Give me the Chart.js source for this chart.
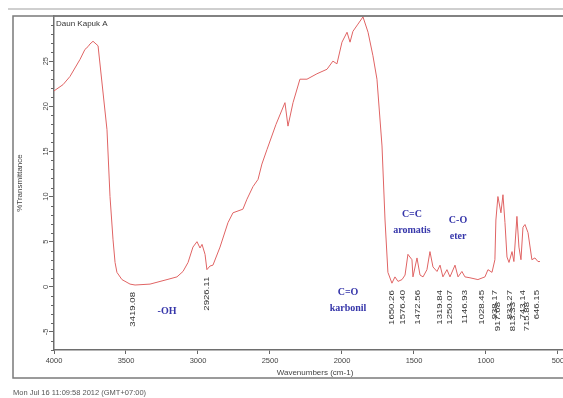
<!DOCTYPE html>
<html>
<head>
<meta charset="utf-8">
<script src="https://cdn.jsdelivr.net/npm/chart.js@4.4.0/dist/chart.umd.min.js"></script>
<style>
html, body { margin: 0; padding: 0; background: #fff; overflow: hidden; }
canvas { display: block; }
</style>
</head>
<body>
<canvas id="mycanvas" width="563" height="398"></canvas>
<script>
// spectrum
var wavenumber = [4000,3937,3889,3819,3785,3764,3750,3729,3694,3632,
	3611,3590,3576,3563,3528,3472,3437,3333,3215,3146,
	3104,3069,3035,3007,2986,2972,2951,2938,2917,2896,
	2847,2792,2757,2688,2660,2618,2583,2556,2521,2458,
	2396,2375,2340,2292,2243,2174,2104,2063,2035,2000,
	1965,1944,1924,1889,1854,1819,1785,1757,1722,1701,
	1681,1653,1632,1611,1583,1562,1542,1514,1507,1479,
	1458,1437,1410,1389,1368,1340,1319,1299,1271,1250,
	1215,1194,1167,1146,1111,1056,1007,986,958,938,
	931,917,896,882,868,854,840,819,806,785,
	771,757,743,729,708,681,660,639,625];
var transmittance = [21.7,22.4,23.3,25.2,26.3,26.6,26.9,27.2,26.7,17.4,
	10.0,5.2,2.7,1.6,0.8,0.3,0.2,0.3,0.8,1.1,
	1.7,2.7,4.4,5.0,4.3,4.7,3.6,1.9,2.3,2.4,
	4.4,7.1,8.2,8.6,9.7,11.1,11.9,13.6,15.2,18.0,
	20.4,17.8,20.4,23.0,23.0,23.6,24.1,25.0,24.7,27.1,
	28.2,27.1,28.3,29.1,29.9,28.2,25.6,23.0,15.6,7.4,
	1.6,0.4,1.1,0.6,0.8,1.3,3.6,3.0,1.1,3.2,
	1.3,1.1,1.9,3.9,2.2,1.7,2.4,1.1,1.9,1.1,
	2.4,1.1,1.7,1.1,1.0,0.8,1.1,1.9,1.6,3.0,
	7.4,10.0,8.2,10.2,7.1,3.3,2.7,3.9,2.8,7.8,
	4.4,3.0,6.6,6.9,6.0,3.0,3.2,2.8,2.8];

var xTicks = [4000,3500,3000,2500,2000,1500,1000,500];
var yTicks = [-5,0,5,10,15,20,25];

// peak marks
var peakWn = [3451,2938,1653,1576,1472,1319,1250,1146,1028,938,917,833,813,743,715,646];
var peakText = ["3419.08","2926.11","1650.26","1576.40","1472.56","1319.84","1250.07","1146.93",
	"1028.45","938.17","917.68","833.27","813.33","743.14","715.88","646.15"];

// functional group notes
var groupLines = [["-OH"], ["C=O", "karbonil"], ["C=C", "aromatis"], ["C-O", "eter"]];
var groupWn = [3215, 1958, 1514, 1194];
var groupT = [-2.7, -0.6, 8.0, 7.4];

var sampleName = "Daun Kapuk A";
var dateText = "Mon Jul 16 11:09:58 2012 (GMT+07:00)";

var points = [];
for (var i in wavenumber) {
	points.push({x: wavenumber[i], y: transmittance[i]});
}

function curveAt(w) {
	var best = 0;
	for (var i = 0; i < wavenumber.length; i++) {
		if (Math.abs(wavenumber[i] - w) < Math.abs(wavenumber[best] - w)) best = i;
	}
	return transmittance[best];
}

var decor = {
	id: 'decor',
	afterDraw: function(chart) {
		var c = chart.ctx, a = chart.chartArea;
		var xs = chart.scales.x, ys = chart.scales.y;
		c.save();

		// window frame
		c.strokeStyle = '#cfcfcf';
		c.lineWidth = 2;
		c.beginPath(); c.moveTo(8, 9); c.lineTo(563, 9); c.stroke();
		c.strokeStyle = '#7a7a7a';
		c.lineWidth = 1.5;
		c.strokeRect(13, a.top, 600, 378 - a.top);
		c.beginPath(); c.moveTo(a.left, a.top); c.lineTo(a.right, a.top); c.stroke();

		// minor y ticks
		c.lineWidth = 1;
		c.strokeStyle = '#666';
		for (var v = -7; v <= 30; v++) {
			if (v % 5 === 0) continue;
			var py = Math.round(ys.getPixelForValue(v)) + 0.5;
			c.beginPath(); c.moveTo(a.left - 3, py); c.lineTo(a.left, py); c.stroke();
		}

		// y tick labels, rotated
		c.fillStyle = '#444';
		c.font = '7.5px "Liberation Sans", Arial, sans-serif';
		c.textAlign = 'center';
		c.textBaseline = 'middle';
		yTicks.forEach(function(t) {
			c.save();
			c.translate(46, ys.getPixelForValue(t));
			c.rotate(-Math.PI / 2);
			c.fillText(String(t), 0, 0);
			c.restore();
		});

		// axis titles
		c.font = '8px "Liberation Sans", Arial, sans-serif';
		c.save();
		c.translate(20, (a.top + a.bottom) / 2);
		c.rotate(-Math.PI / 2);
		c.fillText('%Transmittance', 0, 0);
		c.restore();
		c.fillText('Wavenumbers (cm-1)', 315, 373);

		// sample name and date
		c.textAlign = 'left';
		c.fillStyle = '#333';
		c.font = '8px "Liberation Sans", Arial, sans-serif';
		c.fillText(sampleName, 56, 24);
		c.fillStyle = '#555';
		c.font = '7.5px "Liberation Sans", Arial, sans-serif';
		c.fillText(dateText, 13, 393);

		// peak labels, crowded ones pushed down a little
		c.fillStyle = '#333';
		c.font = '8px "Liberation Sans", Arial, sans-serif';
		c.textAlign = 'right';
		var lastX = -100, shifted = false;
		peakWn.forEach(function(w, i) {
			var px = xs.getPixelForValue(w);
			var top = ys.getPixelForValue(curveAt(w)) + 7;
			if (w < 2000) top = Math.max(top, 290);
			if (px - lastX < 6 && !shifted) { top += 12; shifted = true; } else { shifted = false; }
			lastX = px;
			c.save();
			c.translate(px, top);
			c.rotate(-Math.PI / 2);
			c.scale(1.2, 0.9);
			c.fillText(peakText[i], 0, 0);
			c.restore();
		});

		// group notes
		c.fillStyle = '#3636aa';
		c.font = 'bold 10px "Liberation Serif", "Times New Roman", serif';
		c.textAlign = 'center';
		groupLines.forEach(function(lines, i) {
			var px = xs.getPixelForValue(groupWn[i]);
			var py = ys.getPixelForValue(groupT[i]);
			lines.forEach(function(s, k) {
				c.fillText(s, px, py + k * 16);
			});
		});

		c.restore();
	}
};

var ctx = document.getElementById('mycanvas');

var spectrum = new Chart(ctx, {
	type: 'line',
	data: {
		datasets: [
			{
				label: 'Daun Kapuk A',
				data: points,
				borderColor: '#e06464',
				borderWidth: 1,
				pointRadius: 0,
				tension: 0,
				fill: false
			}
		]
	},
	options: {
		responsive: false,
		animation: false,
		events: [],
		layout: { padding: { top: 16, left: 0, right: 0, bottom: 0 } },
		plugins: { legend: { display: false }, tooltip: { enabled: false } },
		scales: {
			x: {
				type: 'linear',
				reverse: true,
				min: 465,
				max: 4000,
				afterBuildTicks: function(scale) {
					scale.ticks = xTicks.map(function(v) { return {value: v}; });
				},
				afterFit: function(scale) {
					scale.height = 48;
					scale.paddingLeft = 0;
					scale.paddingRight = 0;
				},
				grid: { drawOnChartArea: false, drawTicks: true, tickLength: 4, color: '#666' },
				border: { display: true, color: '#6e6e6e', width: 1.5 },
				ticks: {
					autoSkip: false,
					maxRotation: 0,
					padding: 2,
					color: '#444',
					font: { size: 7.5, family: '"Liberation Sans", Arial, sans-serif' },
					callback: function(v) { return String(v); }
				}
			},
			y: {
				min: -7,
				max: 30,
				afterBuildTicks: function(scale) {
					scale.ticks = yTicks.map(function(v) { return {value: v}; });
				},
				afterFit: function(scale) {
					scale.width = 54;
				},
				grid: { drawOnChartArea: false, drawTicks: true, tickLength: 5, color: '#666' },
				border: { display: true, color: '#6e6e6e', width: 1.5 },
				ticks: { display: false }
			}
		}
	},
	plugins: [decor]
});
</script>
</body>
</html>
